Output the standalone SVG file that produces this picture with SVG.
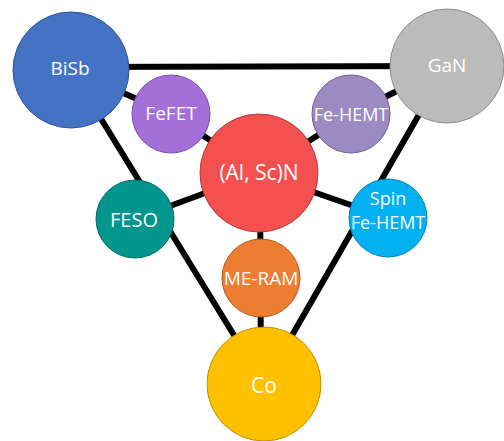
<svg xmlns="http://www.w3.org/2000/svg" width="504" height="441" viewBox="0 0 504 441">
<style>
.edge{stroke:#000;stroke-width:6;fill:none}
circle{stroke-width:1}
text{font-family:"Open Sans","Liberation Sans",sans-serif;fill:#fff;text-anchor:middle;dominant-baseline:central}
</style>
<rect width="504" height="441" fill="#fff"/>
<g id="connectors">
<line class="edge" x1="71" y1="67" x2="447" y2="66"/>
<line class="edge" x1="71" y1="70" x2="264" y2="384"/>
<line class="edge" x1="447" y1="66" x2="264" y2="384"/>
<line class="edge" x1="71" y1="70" x2="171" y2="114"/>
<line class="edge" x1="171" y1="114" x2="259" y2="173"/>
<line class="edge" x1="447" y1="66" x2="351" y2="114"/>
<line class="edge" x1="351" y1="114" x2="259" y2="173"/>
<line class="edge" x1="135" y1="219" x2="259" y2="173"/>
<line class="edge" x1="388" y1="218" x2="259" y2="173"/>
<line class="edge" x1="260" y1="173" x2="261" y2="384"/>
</g>
<g id="node-bisb"><circle cx="71" cy="70" r="58" fill="#4472C4" stroke="#2F528F"/><text x="70" y="68" font-size="19">BiSb</text></g>
<g id="node-gan"><circle cx="447" cy="66" r="57" fill="#BBBBBB" stroke="#8C8C8C"/><text x="447" y="65" font-size="19">GaN</text></g>
<g id="node-fefet"><circle cx="171" cy="114" r="39" fill="#A46FD8" stroke="#7A4FA8"/><text x="171" y="113" font-size="19">FeFET</text></g>
<g id="node-fehemt"><circle cx="351" cy="114" r="39" fill="#9C8AC2" stroke="#6E5E96"/><text x="351" y="114" font-size="18">Fe-HEMT</text></g>
<g id="node-alscn"><circle cx="259" cy="173" r="59" fill="#F55050" stroke="#B33A3A"/><text x="259" y="172" font-size="21">(Al, Sc)N</text></g>
<g id="node-feso"><circle cx="135" cy="219" r="39" fill="#00968D" stroke="#006B65"/><text x="134" y="219" font-size="20">FESO</text></g>
<g id="node-spin"><circle cx="388" cy="218" r="39" fill="#00B0F0" stroke="#0085B5"/><text x="388" y="198" font-size="18">Spin</text><text x="388" y="222" font-size="18">Fe-HEMT</text></g>
<g id="node-meram"><circle cx="261" cy="278" r="39" fill="#ED7D31" stroke="#B35E25"/><text x="261" y="278" font-size="19">ME-RAM</text></g>
<g id="node-co"><circle cx="264" cy="384" r="57" fill="#FFC000" stroke="#C09000"/><text x="264" y="385" font-size="21">Co</text></g>
</svg>
